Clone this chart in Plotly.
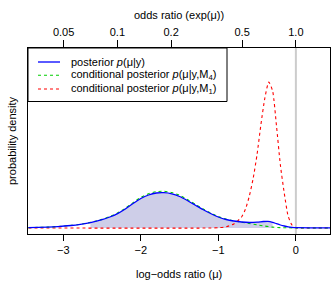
import math
import plotly.graph_objects as go

# log-odds grid and densities
mu_blue = [-3.45, -3.2, -3.07, -2.9, -2.8, -2.65, -2.5, -2.4, -2.3, -2.2, -2.1, -2.0, -1.9, -1.8,
           -1.7, -1.6, -1.5, -1.4, -1.3, -1.2, -1.1, -1.0, -0.9, -0.8, -0.7, -0.6, -0.5, -0.42,
           -0.36, -0.3, -0.25, -0.2, -0.15, -0.1, -0.05, 0.0, 0.45]
dens_blue = [0.008, 0.018, 0.028, 0.050, 0.068, 0.108, 0.166, 0.22, 0.288, 0.38, 0.49, 0.59, 0.66, 0.70,
             0.706, 0.684, 0.63, 0.55, 0.46, 0.37, 0.29, 0.22, 0.17, 0.14, 0.12, 0.11, 0.116, 0.13,
             0.134, 0.114, 0.086, 0.06, 0.04, 0.024, 0.014, 0.008, 0.004]

mu_green = [-3.45, -3.2, -3.07, -2.9, -2.8, -2.65, -2.5, -2.4, -2.3, -2.2, -2.1, -2.0, -1.9, -1.8,
            -1.7, -1.6, -1.5, -1.4, -1.3, -1.2, -1.1, -1.0, -0.9, -0.8, -0.7, -0.6, -0.5, -0.4,
            -0.35, -0.3, -0.2, -0.1, 0.0, 0.45]
dens_green = [0.008, 0.018, 0.03, 0.052, 0.07, 0.112, 0.172, 0.228, 0.30, 0.394, 0.508, 0.612, 0.686, 0.726,
              0.734, 0.71, 0.654, 0.57, 0.478, 0.384, 0.30, 0.228, 0.176, 0.142, 0.116, 0.09, 0.064, 0.038,
              0.028, 0.018, 0.008, 0.004, 0.002, 0.001]

mu_red = [-3.45, -1.1, -1.0, -0.9, -0.8, -0.7, -0.65, -0.6, -0.55, -0.5, -0.45, -0.4, -0.35, -0.3,
          -0.25, -0.2, -0.15, -0.1, -0.05, 0.0, 0.1, 0.45]
dens_red = [0.0, 0.0, 0.006, 0.024, 0.08, 0.22, 0.38, 0.64, 1.0, 1.48, 2.08, 2.6, 2.92, 2.74,
            2.04, 1.26, 0.70, 0.24, 0.06, 0.006, 0.0, 0.0]

hpd_low, hpd_high = -2.65, -0.30

or_ticks = [0.05, 0.1, 0.2, 0.5, 1.0]
or_labels = ["0.05", "0.1", "0.2", "0.5", "1.0"]
lo_ticks = [-3, -2, -1, 0]
lo_labels = ["\u22123", "\u22122", "\u22121", "0"]

or_pos = [math.log(v) for v in or_ticks]

xr = [-3.455, 0.44]
yr = [-0.12, 3.6]
FONT = "Liberation Sans, Arial, Helvetica, sans-serif"

fig = go.Figure()

# shaded interval under posterior
sx = [m for m in mu_blue if hpd_low <= m <= hpd_high]
sy = [d for m, d in zip(mu_blue, dens_blue) if hpd_low <= m <= hpd_high]
fig.add_trace(go.Scatter(x=sx, y=sy, mode="lines", line=dict(width=0, shape="spline", smoothing=0.6),
                         fill="tozeroy", fillcolor="rgb(206,206,232)", showlegend=False, hoverinfo="skip"))

fig.add_trace(go.Scatter(x=mu_red, y=dens_red, mode="lines",
                         line=dict(color="#ff0000", width=1.1, dash="3px,3px", shape="spline", smoothing=0.6),
                         showlegend=False))
fig.add_trace(go.Scatter(x=mu_green, y=dens_green, mode="lines",
                         line=dict(color="rgb(0,205,0)", width=1.1, dash="3px,3px", shape="spline", smoothing=0.6),
                         showlegend=False))
fig.add_trace(go.Scatter(x=mu_blue, y=dens_blue, mode="lines",
                         line=dict(color="#0000ff", width=1.3, shape="spline", smoothing=0.6),
                         showlegend=False))
# invisible trace to activate top axis
fig.add_trace(go.Scatter(x=or_pos, y=[None] * len(or_pos), xaxis="x2", mode="lines", showlegend=False,
                         hoverinfo="skip"))

shapes = [
    dict(type="line", xref="x", yref="paper", x0=0, x1=0, y0=0, y1=1,
         line=dict(color="rgb(204,204,204)", width=2), layer="below"),
]

# legend (manual)
pw = 302.0
ph = 186.0
def px_x(p):
    return (p - 28) / pw
def px_y(p):
    return (234 - p) / ph

shapes.append(dict(type="rect", xref="paper", yref="paper", x0=0, x1=px_x(227), y0=px_y(101.5), y1=1,
                   line=dict(color="black", width=1), fillcolor="white", layer="above"))
leg_rows = [62, 75.3, 89]
leg_styles = [("#0000ff", "solid", 1.3), ("rgb(0,205,0)", "3px,3px", 1.1), ("#ff0000", "3px,3px", 1.1)]
leg_text = ["posterior <i>p</i>(\u03bc|y)",
            "conditional posterior <i>p</i>(\u03bc|y,M<sub>4</sub>)",
            "conditional posterior <i>p</i>(\u03bc|y,M<sub>1</sub>)"]
annotations = []
for r, (c, d, w), t in zip(leg_rows, leg_styles, leg_text):
    shapes.append(dict(type="line", xref="paper", yref="paper", x0=px_x(38), x1=px_x(60),
                       y0=px_y(r), y1=px_y(r), line=dict(color=c, dash=d, width=w), layer="above"))
    annotations.append(dict(xref="paper", yref="paper", x=px_x(69), y=px_y(r), text=t, showarrow=False,
                            xanchor="left", yanchor="middle", font=dict(size=11, color="black", family=FONT)))

annotations += [
    dict(xref="paper", yref="paper", x=0.5, y=0, yshift=-40, text="log\u2212odds ratio (\u03bc)",
         showarrow=False, xanchor="center", yanchor="middle", font=dict(size=11, color="black", family=FONT)),
    dict(xref="paper", yref="paper", x=0.5, y=1, yshift=33, text="odds ratio (exp(\u03bc))",
         showarrow=False, xanchor="center", yanchor="middle", font=dict(size=11, color="black", family=FONT)),
    dict(xref="paper", yref="paper", x=0, xshift=-16, y=0.5, text="probability density", textangle=-90,
         showarrow=False, xanchor="center", yanchor="middle", font=dict(size=11, color="black", family=FONT)),
]

fig.update_layout(
    width=332, height=284,
    margin=dict(l=28, r=2, t=48, b=50),
    paper_bgcolor="white", plot_bgcolor="white",
    font=dict(family=FONT, size=11, color="black"),
    xaxis=dict(range=xr, tickvals=lo_ticks, ticktext=lo_labels, ticks="outside", ticklen=6,
               tickcolor="black", showline=True, linecolor="black", linewidth=1, mirror=True,
               showgrid=False, zeroline=False, automargin=False),
    xaxis2=dict(range=xr, overlaying="x", side="top", anchor="y", tickvals=or_pos, ticktext=or_labels,
                ticks="outside", ticklen=7, tickcolor="black", showline=True, linecolor="black",
                linewidth=1, showgrid=False, zeroline=False, automargin=False),
    yaxis=dict(range=yr, showticklabels=False, ticks="", showgrid=False, zeroline=False,
               showline=True, linecolor="black", linewidth=1, mirror=True, automargin=False),
    shapes=shapes,
    annotations=annotations,
)

fig.write_html(
    "out.html",
    config={"displayModeBar": False},
    post_script="document.body.style.margin='0';document.body.style.padding='0';"
                "document.documentElement.style.overflow='hidden';document.body.style.overflow='hidden';",
)
